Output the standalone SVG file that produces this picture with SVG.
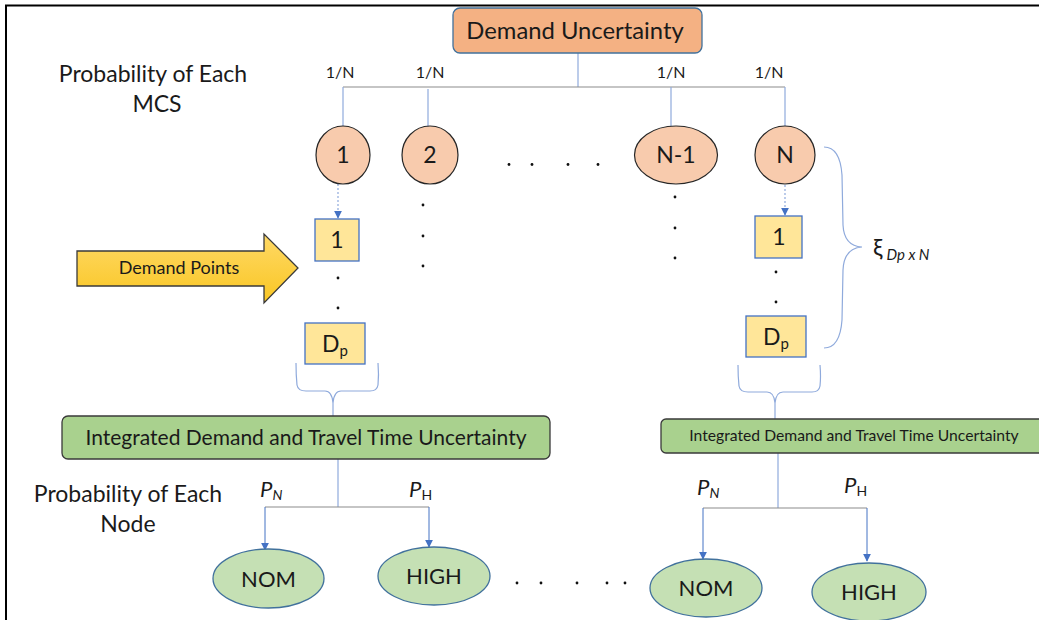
<svg xmlns="http://www.w3.org/2000/svg" width="1039" height="620" viewBox="0 0 1039 620">
<style>
text{font-family:Lato,"Open Sans","Liberation Sans",sans-serif;fill:#1a1a1a}
.lbl{font-size:23px}
.mid{text-anchor:middle}
.circ{fill:#F8CBAD;stroke:#262626;stroke-width:1.2}
.ybox{fill:#FFE699;stroke:#4472C4;stroke-width:1.3}
.gbox{fill:#A9D18E;stroke:#3a3a3a;stroke-width:1.3}
.gell{fill:#C5E0B4;stroke:#41719C;stroke-width:1.3}
.hl{stroke:#8c8c8c;stroke-width:1.2;fill:none}
.vl{stroke:#8FAADC;stroke-width:1.2;fill:none}
.ar{stroke:#4472C4;stroke-width:1;fill:none}
.dash{stroke:#8FAADC;stroke-width:1.2;stroke-dasharray:2 2;fill:none}
.brace{stroke:#8FAADC;stroke-width:1.2;fill:none}
.dot{fill:#111}
</style>
<defs>
<marker id="ah" viewBox="0 0 10 10" refX="9" refY="5" markerWidth="8" markerHeight="8" markerUnits="userSpaceOnUse" orient="auto">
<path d="M0,0 L10,5 L0,10 z" fill="#4472C4"/>
</marker>
<linearGradient id="gold" x1="0" y1="0" x2="0" y2="1">
<stop offset="0" stop-color="#FFD966"/>
<stop offset="1" stop-color="#F9C623"/>
</linearGradient>
</defs>
<rect width="1039" height="620" fill="#fff"/>
<path d="M6,620 L6,5.5 L1039,5.5" stroke="#000" stroke-width="2" fill="none"/>

<g id="connectors">
<line class="vl" x1="578" y1="53" x2="578" y2="87"/>
<line class="hl" x1="343" y1="87" x2="785" y2="87"/>
<line class="vl" x1="343" y1="87" x2="343" y2="126"/>
<line class="vl" x1="428" y1="89" x2="428" y2="127"/>
<line class="vl" x1="671" y1="87" x2="671" y2="126"/>
<line class="vl" x1="785" y1="87" x2="785" y2="126"/>
<line class="dash" x1="338" y1="184" x2="338" y2="218" marker-end="url(#ah)"/>
<line class="dash" x1="785" y1="185" x2="785" y2="215" marker-end="url(#ah)"/>
<path class="brace" d="M296,363 Q296,375 297,385 Q298,391 306,391 L325,391 Q332,391 333,403 Q334,391 341,391 L370,391 Q377,391 378,385 Q379,375 378,363"/>
<line class="vl" x1="333" y1="403" x2="333" y2="416"/>
<path class="brace" d="M738,365 Q738,377 739,386 Q740,392 748,392 L767,392 Q774,392 775,403 Q776,392 783,392 L812,392 Q819,392 820,386 Q821,377 820,365"/>
<line class="vl" x1="775" y1="403" x2="775" y2="419"/>
<path class="brace" d="M824,147 Q840,147 842,175 L843,225 Q844,246 862,247 Q844,248 843,270 L842,320 Q840,348 824,348"/>
<line class="vl" x1="338" y1="459" x2="338" y2="507"/>
<line class="hl" x1="265" y1="507" x2="429" y2="507"/>
<line class="ar" x1="265" y1="507" x2="265" y2="550" marker-end="url(#ah)"/>
<line class="ar" x1="429" y1="507" x2="429" y2="547" marker-end="url(#ah)"/>
<line class="vl" x1="778" y1="453" x2="778" y2="508"/>
<line class="hl" x1="703" y1="508" x2="867" y2="508"/>
<line class="ar" x1="703" y1="508" x2="703" y2="559" marker-end="url(#ah)"/>
<line class="ar" x1="867" y1="508" x2="867" y2="561" marker-end="url(#ah)"/>
</g>

<g id="labels">
<text class="lbl mid" x="153" y="82">Probability of Each</text>
<text class="lbl mid" x="157" y="112">MCS</text>
<text x="340" y="78" font-size="16" class="mid">1/N</text>
<text x="430" y="78" font-size="16" class="mid">1/N</text>
<text x="671" y="78" font-size="16" class="mid">1/N</text>
<text x="769" y="78" font-size="16" class="mid">1/N</text>
<text class="lbl mid" x="128" y="502">Probability of Each</text>
<text class="lbl mid" x="128" y="532">Node</text>
<text x="260" y="497" font-size="22" font-style="italic">P<tspan font-size="14" dy="3">N</tspan></text>
<text x="409" y="497" font-size="22" font-style="italic">P<tspan font-size="14" dy="3" font-style="normal">H</tspan></text>
<text x="697" y="495" font-size="22" font-style="italic">P<tspan font-size="14" dy="3">N</tspan></text>
<text x="844" y="493" font-size="22" font-style="italic">P<tspan font-size="14" dy="3" font-style="normal">H</tspan></text>
<text x="873" y="256" font-size="24">ξ<tspan font-size="15" font-style="italic" dx="4" dy="4">Dp x N</tspan></text>
</g>

<g id="dots">
<circle class="dot" cx="509" cy="164.5" r="1.4"/>
<circle class="dot" cx="532" cy="164.5" r="1.4"/>
<circle class="dot" cx="568" cy="164.5" r="1.4"/>
<circle class="dot" cx="598" cy="164.5" r="1.4"/>
<circle class="dot" cx="423" cy="205" r="1.4"/>
<circle class="dot" cx="423" cy="236" r="1.4"/>
<circle class="dot" cx="423" cy="266" r="1.4"/>
<circle class="dot" cx="675" cy="197" r="1.4"/>
<circle class="dot" cx="675" cy="228" r="1.4"/>
<circle class="dot" cx="675" cy="258" r="1.4"/>
<circle class="dot" cx="338" cy="278" r="1.4"/>
<circle class="dot" cx="338" cy="308" r="1.4"/>
<circle class="dot" cx="776" cy="272" r="1.4"/>
<circle class="dot" cx="776" cy="302" r="1.4"/>
<circle class="dot" cx="517" cy="583" r="1.4"/>
<circle class="dot" cx="541" cy="583" r="1.4"/>
<circle class="dot" cx="577" cy="583" r="1.4"/>
<circle class="dot" cx="607" cy="583" r="1.4"/>
<circle class="dot" cx="625" cy="583" r="1.4"/>
</g>

<g id="demand-uncertainty">
<rect x="453" y="8" width="249" height="45" rx="7" fill="#F4B183" stroke="#41719C" stroke-width="1.3"/>
<text x="575" y="39" font-size="23.8" class="mid">Demand Uncertainty</text>
</g>
<g id="mcs-1"><ellipse class="circ" cx="343" cy="155" rx="27" ry="29"/><text x="343" y="163" font-size="23" class="mid">1</text></g>
<g id="mcs-2"><ellipse class="circ" cx="430" cy="155" rx="28" ry="29"/><text x="430" y="163" font-size="23" class="mid">2</text></g>
<g id="mcs-n-1"><ellipse class="circ" cx="676" cy="155" rx="41.5" ry="29"/><text x="676" y="163" font-size="23" class="mid">N-1</text></g>
<g id="mcs-n"><ellipse class="circ" cx="785" cy="155" rx="30" ry="29"/><text x="785" y="163" font-size="23" class="mid">N</text></g>

<g id="demand-points-arrow">
<path d="M77,251 L264,251 L264,234 L298,268 L264,303 L264,286 L77,286 Z" fill="url(#gold)" stroke="#3a3a3a" stroke-width="1.3"/>
<text x="179" y="274" font-size="18" class="mid">Demand Points</text>
</g>

<g id="dp1-left"><rect class="ybox" x="315" y="219" width="44" height="42"/><text x="337" y="248" font-size="23" class="mid">1</text></g>
<g id="dpn-left"><rect class="ybox" x="305" y="323" width="60" height="41"/><text x="335" y="352" font-size="23" class="mid">D<tspan font-size="15" dy="4">p</tspan></text></g>
<g id="dp1-right"><rect class="ybox" x="755" y="216" width="47" height="42"/><text x="779" y="245" font-size="23" class="mid">1</text></g>
<g id="dpn-right"><rect class="ybox" x="746" y="316" width="60" height="41"/><text x="776" y="345" font-size="23" class="mid">D<tspan font-size="15" dy="4">p</tspan></text></g>

<g id="integrated-left"><rect class="gbox" x="62" y="416" width="488" height="43" rx="6"/><text x="306" y="445" font-size="21" class="mid">Integrated Demand and Travel Time Uncertainty</text></g>
<g id="integrated-right"><rect class="gbox" x="661" y="419" width="385" height="34" rx="5"/><text x="854" y="441" font-size="15.7" class="mid">Integrated Demand and Travel Time Uncertainty</text></g>

<g id="nom-left"><ellipse class="gell" cx="268.5" cy="578.5" rx="55.5" ry="29.5"/><text x="268.5" y="587" font-size="22" class="mid">NOM</text></g>
<g id="high-left"><ellipse class="gell" cx="434" cy="576" rx="56" ry="29"/><text x="434" y="584" font-size="22" class="mid">HIGH</text></g>
<g id="nom-right"><ellipse class="gell" cx="706" cy="588" rx="56" ry="29"/><text x="706" y="596" font-size="22" class="mid">NOM</text></g>
<g id="high-right"><ellipse class="gell" cx="869" cy="592" rx="57" ry="29"/><text x="869" y="600" font-size="22" class="mid">HIGH</text></g>
</svg>
